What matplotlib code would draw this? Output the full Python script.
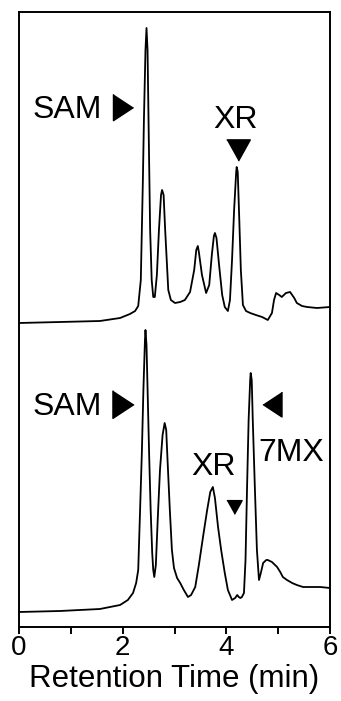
import matplotlib
matplotlib.use('Agg')
import matplotlib.pyplot as plt

plt.rcParams['font.family'] = ['Liberation Sans', 'DejaVu Sans']

# upper chromatogram (signal relative to its own baseline)
upper_t = [0.00, 0.79, 1.56, 1.95, 2.14, 2.24, 2.30, 2.35, 2.39, 2.41,
           2.44, 2.46, 2.48, 2.51, 2.53, 2.56, 2.59, 2.62, 2.66, 2.70,
           2.74, 2.76, 2.79, 2.82, 2.86, 2.88, 2.93, 3.01, 3.11, 3.20,
           3.30, 3.38, 3.42, 3.45, 3.47, 3.53, 3.61, 3.67, 3.72, 3.76,
           3.78, 3.81, 3.86, 3.92, 3.97, 4.03, 4.07, 4.11, 4.15, 4.19,
           4.20, 4.22, 4.25, 4.28, 4.32, 4.38, 4.46, 4.57, 4.69, 4.80,
           4.88, 4.92, 4.96, 5.02, 5.07, 5.15, 5.23, 5.31, 5.36, 5.46,
           5.56, 5.75, 6.00]
upper_sig = [4, 5, 6, 9, 13, 16, 21, 47, 147, 207,
             277, 299, 277, 167, 97, 47, 30, 30, 52, 97,
             132, 137, 132, 97, 57, 37, 27, 24, 25, 27,
             35, 57, 77, 81, 75, 52, 34, 42, 72, 91,
             94, 89, 62, 32, 20, 16, 27, 67, 117, 155,
             160, 155, 107, 57, 22, 16, 14, 12, 10, 7,
             14, 27, 34, 32, 30, 34, 35, 29, 24, 21,
             20, 19, 20]

# lower chromatogram
lower_t = [0.00, 0.79, 1.56, 1.95, 2.10, 2.20, 2.26, 2.30, 2.33, 2.37,
           2.40, 2.43, 2.44, 2.46, 2.49, 2.51, 2.54, 2.57, 2.59, 2.61,
           2.64, 2.68, 2.72, 2.77, 2.81, 2.84, 2.87, 2.91, 2.95, 2.99,
           3.05, 3.11, 3.18, 3.26, 3.32, 3.40, 3.47, 3.55, 3.63, 3.69,
           3.74, 3.78, 3.84, 3.90, 3.97, 4.03, 4.11, 4.17, 4.21, 4.24,
           4.27, 4.30, 4.34, 4.37, 4.40, 4.43, 4.46, 4.47, 4.49, 4.51,
           4.55, 4.59, 4.63, 4.67, 4.71, 4.77, 4.80, 4.88, 4.98, 5.04,
           5.09, 5.17, 5.27, 5.36, 5.48, 5.65, 5.81, 6.00]
lower_sig = [15, 16, 18, 22, 27, 34, 44, 57, 107, 174,
             237, 287, 297, 282, 217, 174, 117, 74, 57, 50,
             62, 112, 157, 192, 204, 197, 162, 117, 77, 59,
             49, 44, 37, 30, 32, 40, 62, 90, 117, 135,
             140, 129, 100, 77, 54, 37, 27, 29, 32, 30,
             29, 30, 34, 67, 140, 207, 247, 254, 247, 207,
             140, 77, 47, 55, 64, 67, 67, 65, 60, 55,
             50, 47, 44, 42, 40, 40, 40, 39]

x_ticks = [0, 2, 4, 6]
x_minor = [1, 3, 5]

upper_offset = 300

fig = plt.figure(figsize=(3.41, 7.01), dpi=100)
ax = fig.add_axes([19/341, 74/701, 311/341, 615/701])

ax.plot(upper_t, [s + upper_offset for s in upper_sig], color='black', lw=1.3)
ax.plot(lower_t, lower_sig, color='black', lw=1.3)

ax.set_xlim(0, 6)
ax.set_ylim(0, 615)
ax.set_yticks([])
ax.set_xticks(x_ticks)
ax.set_xticks(x_minor, minor=True)
ax.tick_params(axis='x', which='both', direction='out', length=5, width=1.4,
               labelsize=20, pad=1)
for sp in ax.spines.values():
    sp.set_linewidth(1.4)
ax.set_xlabel('Retention Time (min)', fontsize=22.5, labelpad=2)

def tri(verts, x, y, size):
    ax.plot([x], [y], marker=verts, markersize=size, color='black',
            linestyle='none', clip_on=False)

right_tri = [(-0.38, 0.5), (-0.38, -0.5), (0.38, 0)]
left_tri = [(0.38, 0.5), (0.38, -0.5), (-0.38, 0)]
down_tri = [(-0.5, 0.45), (0.5, 0.45), (0, -0.45)]

# upper annotations
ax.text(1.60, 517, 'SAM', fontsize=23, ha='right', va='center')
tri(right_tri, 2.01, 520, 19)
ax.text(4.17, 507, 'XR', fontsize=23, ha='center', va='center')
tri(down_tri, 4.23, 477, 17)

# lower annotations
ax.text(1.60, 220, 'SAM', fontsize=23, ha='right', va='center')
tri(right_tri, 2.01, 223, 20)
tri(left_tri, 4.88, 223, 18)
ax.text(4.61, 174, '7MX', fontsize=23, ha='left', va='center')
ax.text(3.76, 160, 'XR', fontsize=23, ha='center', va='center')
tri(down_tri, 4.15, 120, 11)

fig.savefig('out.png', dpi=100)
